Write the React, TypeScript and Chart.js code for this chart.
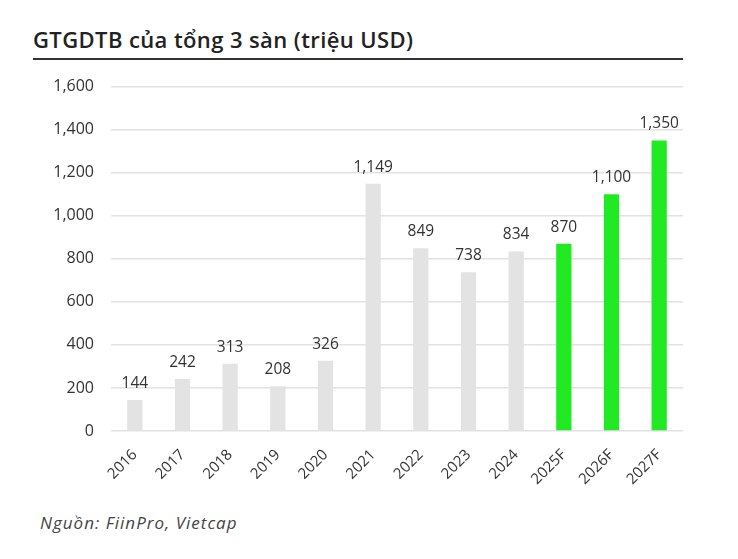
import React, { useEffect, useRef } from "react";
import { Chart, registerables } from "chart.js";

Chart.register(...registerables);

const categories = ["2016", "2017", "2018", "2019", "2020", "2021", "2022", "2023", "2024", "2025F", "2026F", "2027F"];
const values = [144, 242, 313, 208, 326, 1149, 849, 738, 834, 870, 1100, 1350];
const barColors = ["#e3e3e3", "#e3e3e3", "#e3e3e3", "#e3e3e3", "#e3e3e3", "#e3e3e3", "#e3e3e3", "#e3e3e3", "#e3e3e3", "#22ea22", "#22ea22", "#22ea22"];
const yTicks = [0, 200, 400, 600, 800, 1000, 1200, 1400, 1600];

const FONT = "'Open Sans', 'Noto Sans', sans-serif";

const valueLabels = {
  id: "valueLabels",
  afterDatasetsDraw(chart: any) {
    const ctx = chart.ctx;
    const meta = chart.getDatasetMeta(0);
    ctx.save();
    ctx.font = `15.5px ${FONT}`;
    ctx.fillStyle = "#333";
    ctx.textAlign = "center";
    ctx.textBaseline = "alphabetic";
    meta.data.forEach((bar: any, i: number) => {
      ctx.fillText(values[i].toLocaleString("en-US"), bar.x, bar.y - 12);
    });
    ctx.restore();
  },
};

export default function App() {
  const ref = useRef<HTMLCanvasElement>(null);
  useEffect(() => {
    if (!ref.current) return;
    const chart = new Chart(ref.current, {
      type: "bar",
      data: {
        labels: categories,
        datasets: [
          {
            data: values,
            backgroundColor: barColors,
            barPercentage: 0.32,
            categoryPercentage: 1,
          },
        ],
      },
      options: {
        animation: false,
        responsive: false,
        maintainAspectRatio: false,
        layout: { padding: { top: 26, right: 55, bottom: 0, left: 0 } },
        plugins: { legend: { display: false }, tooltip: { enabled: false } },
        scales: {
          x: {
            grid: { display: false },
            border: { display: false },
            ticks: {
              minRotation: 45,
              maxRotation: 45,
              color: "#333",
              font: { family: FONT, size: 15 },
              padding: 7,
            },
            afterFit(scale: any) {
              scale.height = 69;
            },
          },
          y: {
            min: 0,
            max: 1600,
            afterBuildTicks(scale: any) {
              scale.ticks = yTicks.map((v) => ({ value: v }));
            },
            grid: { color: "#e2e2e2", drawTicks: false, lineWidth: 1.5 },
            border: { display: false },
            ticks: {
              color: "#333",
              font: { family: FONT, size: 16 },
              padding: 17,
              callback: (v: any) => Number(v).toLocaleString("en-US"),
            },
            afterFit(scale: any) {
              scale.width = 111;
            },
          },
        },
      },
      plugins: [valueLabels],
    });
    return () => chart.destroy();
  }, []);

  return (
    <div style={{ position: "absolute", left: 0, top: 0, width: 738, height: 559, background: "#fff", overflow: "hidden" }}>
      <div
        style={{
          position: "absolute",
          left: 33,
          top: 24,
          fontFamily: FONT,
          fontWeight: 600,
          fontSize: 22,
          letterSpacing: 0.4,
          color: "#222",
          lineHeight: "30px",
          whiteSpace: "nowrap",
        }}
      >
        GTGDTB của tổng 3 sàn (triệu USD)
      </div>
      <div style={{ position: "absolute", left: 33, top: 58, width: 650, height: 2, background: "#333" }} />
      <canvas ref={ref} width={738} height={440} style={{ position: "absolute", left: 0, top: 60, width: 738, height: 440 }} />
      <div
        style={{
          position: "absolute",
          left: 40,
          top: 511,
          fontFamily: FONT,
          fontStyle: "italic",
          fontSize: 17,
          letterSpacing: 1,
          color: "#444",
          lineHeight: "24px",
          whiteSpace: "nowrap",
        }}
      >
        Nguồn: FiinPro, Vietcap
      </div>
    </div>
  );
}
